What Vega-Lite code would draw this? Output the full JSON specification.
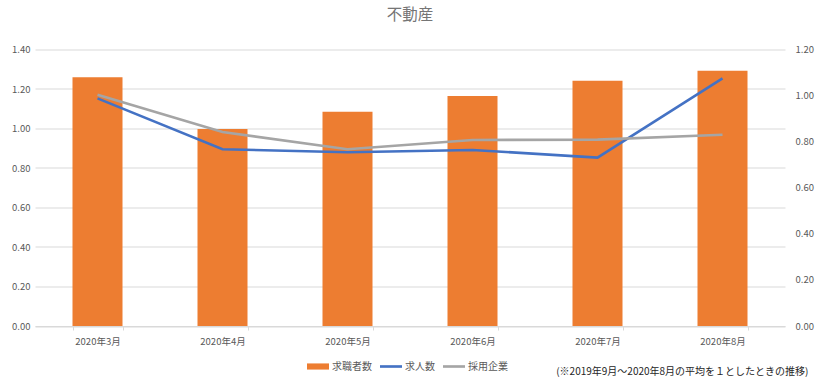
{
  "$schema": "https://vega.github.io/schema/vega-lite/v6.json",
  "width": 750,
  "height": 276.5,
  "autosize": {"type": "none"},
  "padding": {"left": 35, "top": 49.5, "right": 35, "bottom": 57},
  "background": "white",
  "title": {"text": "不動産", "anchor": "middle", "fontSize": 15.5, "font": "Noto Sans CJK JP", "fontWeight": "normal", "color": "#757575", "offset": 21},
  "config": {
    "view": {"stroke": null},
    "font": "Noto Sans CJK JP",
    "axis": {"labelFont": "Noto Sans CJK JP", "labelColor": "#595959", "labelFontSize": 9.5, "titleFont": "Noto Sans CJK JP"},
    "legend": {"labelFont": "Noto Sans CJK JP", "labelColor": "#595959", "labelFontSize": 10}
  },
  "data": {"values": [
    {"month": "2020年3月", "series": "求職者数", "value": 1.259},
    {"month": "2020年4月", "series": "求職者数", "value": 0.997},
    {"month": "2020年5月", "series": "求職者数", "value": 1.085},
    {"month": "2020年6月", "series": "求職者数", "value": 1.165},
    {"month": "2020年7月", "series": "求職者数", "value": 1.242},
    {"month": "2020年8月", "series": "求職者数", "value": 1.293},
    {"month": "2020年3月", "series": "求人数", "value": 0.988},
    {"month": "2020年4月", "series": "求人数", "value": 0.767},
    {"month": "2020年5月", "series": "求人数", "value": 0.754},
    {"month": "2020年6月", "series": "求人数", "value": 0.764},
    {"month": "2020年7月", "series": "求人数", "value": 0.731},
    {"month": "2020年8月", "series": "求人数", "value": 1.075},
    {"month": "2020年3月", "series": "採用企業", "value": 1.004},
    {"month": "2020年4月", "series": "採用企業", "value": 0.842},
    {"month": "2020年5月", "series": "採用企業", "value": 0.767},
    {"month": "2020年6月", "series": "採用企業", "value": 0.807},
    {"month": "2020年7月", "series": "採用企業", "value": 0.809},
    {"month": "2020年8月", "series": "採用企業", "value": 0.830}
  ]},
  "encoding": {
    "x": {
      "field": "month", "type": "nominal", "sort": null,
      "scale": {"paddingInner": 0.6, "paddingOuter": 0.3},
      "axis": {
        "title": "(※2019年9月～2020年8月の平均を１としたときの推移)",
        "titleFontSize": 10, "titleColor": "#262626", "titleFontWeight": "normal",
        "titleAnchor": "end", "titleAlign": "right", "titleBaseline": "middle",
        "titleX": 773, "titleY": 45,
        "labelAngle": 0, "labelPadding": 6,
        "domainColor": "#D9D9D9", "tickColor": "#D9D9D9", "tickSize": 4, "tickBand": "extent",
        "grid": false
      }
    }
  },
  "layer": [
    {
      "transform": [{"filter": "datum.series === '求職者数'"}],
      "mark": {"type": "bar"},
      "encoding": {
        "y": {
          "field": "value", "type": "quantitative",
          "scale": {"domain": [0, 1.4], "nice": false},
          "axis": {"title": null, "values": [0, 0.2, 0.4, 0.6, 0.8, 1.0, 1.2, 1.4], "format": ".2f",
                   "grid": true, "gridColor": "#D9D9D9", "domain": false, "ticks": false, "labelPadding": 5}
        },
        "color": {
          "field": "series", "type": "nominal",
          "scale": {"domain": ["求職者数", "求人数", "採用企業"], "range": ["#ED7D31", "#4472C4", "#A5A5A5"]},
          "legend": {
            "title": null, "orient": "none", "direction": "horizontal",
            "legendX": 272, "legendY": 306,
            "symbolSize": 484, "columnPadding": 8, "labelOffset": 3,
            "encode": {
              "symbols": {"update": {
                "shape": {"signal": "datum.value === '求職者数' ? 'M-1,-0.28H1V0.28H-1Z' : 'M-1,-0.12H1V0.12H-1Z'"},
                "fill": {"scale": "color", "field": "value"},
                "strokeWidth": {"value": 0},
                "fillOpacity": {"value": 1}
              }}
            }
          }
        }
      }
    },
    {
      "transform": [{"filter": "datum.series !== '求職者数'"}],
      "mark": {"type": "line", "strokeWidth": 2.6},
      "encoding": {
        "y": {
          "field": "value", "type": "quantitative",
          "scale": {"domain": [0, 1.2], "nice": false},
          "axis": {"title": null, "orient": "right", "values": [0, 0.2, 0.4, 0.6, 0.8, 1.0, 1.2], "format": ".2f",
                   "grid": false, "domain": false, "ticks": false, "labelPadding": 10}
        },
        "color": {"field": "series", "type": "nominal"}
      }
    }
  ],
  "resolve": {"scale": {"y": "independent"}}
}
